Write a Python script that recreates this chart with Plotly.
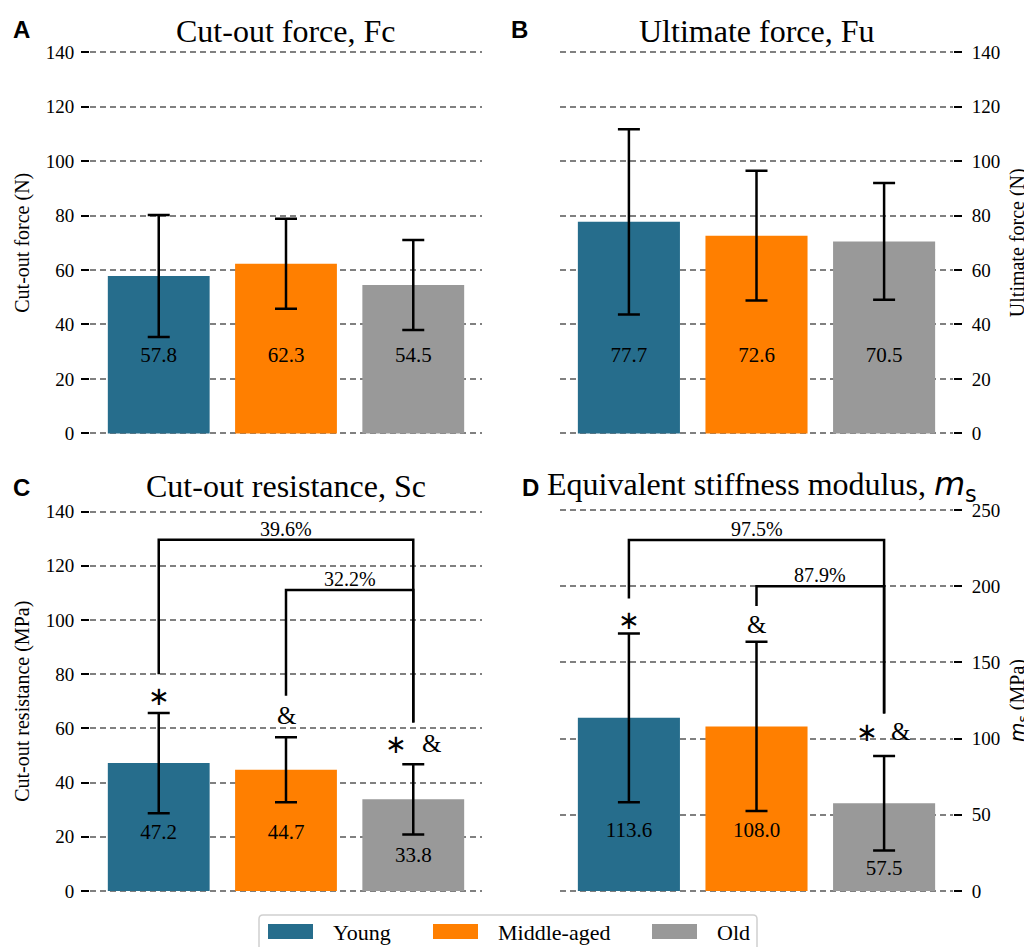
import plotly.graph_objects as go

W, H = 1032, 947
OFF = 8  # the page body adds an 8px margin; pixel positions below are page pixels


def fx(px):
    return (px - OFF) / W


def fy(py):
    return 1 - (py - OFF) / H


# ---------------- data ----------------
categories = ["Young", "Middle-aged", "Old"]
bar_colors = ["#266D8C", "#FF7F00", "#999999"]

fc_mean = [57.8, 62.3, 54.5]
fc_sd = [22.4, 16.5, 16.5]
fu_mean = [77.7, 72.6, 70.5]
fu_sd = [34.0, 23.8, 21.4]
sc_mean = [47.2, 44.7, 33.8]
sc_sd = [18.5, 12.0, 13.0]
ms_mean = [113.6, 108.0, 57.5]
ms_sd = [55.3, 55.5, 31.0]

# vertical placement of the value labels inside the bars (data units)
fc_label_y = [28.2, 28.2, 28.2]
fu_label_y = [28.2, 28.2, 28.2]
sc_label_y = [21.2, 21.2, 12.6]
ms_label_y = [38.9, 38.9, 13.8]

# significance brackets: from group, to group, left-leg bottom, right-leg bottom, top, text
sc_br_from = [0, 1]
sc_br_to = [2, 2]
sc_br_left = [80.0, 72.0]
sc_br_right = [62.2, 62.2]
sc_br_top = [129.6, 111.0]
sc_br_text = ["39.6%", "32.2%"]

ms_br_from = [0, 1]
ms_br_to = [2, 2]
ms_br_left = [192.0, 187.0]
ms_br_right = [116.5, 116.5]
ms_br_top = [230.3, 200.0]
ms_br_text = ["97.5%", "87.9%"]

# significance symbols: x position, y, symbol
sc_sym_x = [0, 1, 1.866, 2.142]
sc_sym_y = [72.0, 64.7, 54.4, 54.4]
sc_sym = ["∗", "&", "∗", "&"]
ms_sym_x = [0, 1, 1.868, 2.13]
ms_sym_y = [178.0, 175.0, 104.5, 104.5]
ms_sym = ["∗", "&", "∗", "&"]

SERIF = "Liberation Serif"
SANS = "Liberation Sans"
MS = '<span style="font-family:DejaVu Sans"><i>m</i><sub>s</sub></span>'

fig = go.Figure()

panels = [
    dict(x="x", y="y", m=fc_mean, s=fc_sd, ly=fc_label_y, rng=[-1, 141], dt=20,
         side="left", xpx=(90, 482), ypx=(436.2, 49.3), title="Cut-out force (N)"),
    dict(x="x2", y="y2", m=fu_mean, s=fu_sd, ly=fu_label_y, rng=[-1, 141], dt=20,
         side="right", xpx=(560, 953), ypx=(436.2, 49.3), title="Ultimate force (N)"),
    dict(x="x3", y="y3", m=sc_mean, s=sc_sd, ly=sc_label_y, rng=[-1, 141], dt=20,
         side="left", xpx=(90, 482), ypx=(893.7, 508.8), title="Cut-out resistance (MPa)"),
    dict(x="x4", y="y4", m=ms_mean, s=ms_sd, ly=ms_label_y, rng=[-2, 252], dt=50,
         side="right", xpx=(560, 953), ypx=(894.0, 507.0), title=MS + " (MPa)"),
]

xi = [0, 1, 2]
for p in panels:
    for i, cat in enumerate(categories):
        fig.add_trace(go.Bar(
            x=[xi[i]], y=[p["m"][i]], width=0.8, name=cat,
            marker=dict(color=bar_colors[i], line=dict(width=0)),
            error_y=dict(type="data", array=[p["s"][i]], visible=True,
                         color="black", thickness=2.5, width=11),
            xaxis=p["x"], yaxis=p["y"], showlegend=False,
        ))
    fig.add_trace(go.Scatter(
        x=xi, y=p["ly"], mode="text",
        text=[f"{v:.1f}" for v in p["m"]],
        textfont=dict(family=SERIF, size=21, color="black"),
        xaxis=p["x"], yaxis=p["y"], showlegend=False, hoverinfo="skip",
    ))


def add_brackets(xa, ya, f, t, left, right, top, texts):
    for k in range(len(f)):
        fig.add_trace(go.Scatter(
            x=[f[k], f[k], t[k], t[k]], y=[left[k], top[k], top[k], right[k]],
            mode="lines", line=dict(color="black", width=2.5),
            xaxis=xa, yaxis=ya, showlegend=False, hoverinfo="skip",
        ))
        fig.add_annotation(x=(f[k] + t[k]) / 2, y=top[k], xref=xa, yref=ya,
                           text=texts[k], showarrow=False, yanchor="bottom", yshift=-2,
                           font=dict(family=SERIF, size=20, color="black"))


add_brackets("x3", "y3", sc_br_from, sc_br_to, sc_br_left, sc_br_right, sc_br_top, sc_br_text)
add_brackets("x4", "y4", ms_br_from, ms_br_to, ms_br_left, ms_br_right, ms_br_top, ms_br_text)

for xa, ya, xs, ys, ss in [("x3", "y3", sc_sym_x, sc_sym_y, sc_sym),
                           ("x4", "y4", ms_sym_x, ms_sym_y, ms_sym)]:
    for xv, yv, sv in zip(xs, ys, ss):
        fam = "DejaVu Sans" if sv == "∗" else SERIF
        fig.add_annotation(x=xv, y=yv, xref=xa, yref=ya, text=sv, showarrow=False,
                           font=dict(family=fam, size=26 if sv == "∗" else 25, color="black"))

layout = dict(
    width=W, height=H, margin=dict(l=0, r=0, t=0, b=0, autoexpand=False),
    paper_bgcolor="white", plot_bgcolor="white", showlegend=False,
    barmode="overlay",
)
for p in panels:
    xk = "xaxis" + p["x"][1:]
    yk = "yaxis" + p["y"][1:]
    right = p["side"] == "right"
    layout[xk] = dict(domain=[fx(p["xpx"][0]), fx(p["xpx"][1])], range=[-0.54, 2.54],
                      showticklabels=False, showgrid=False, zeroline=False, showline=False,
                      ticks="", anchor=p["y"], fixedrange=True, automargin=False)
    layout[yk] = dict(domain=[fy(p["ypx"][0]), fy(p["ypx"][1])], range=p["rng"],
                      anchor=p["x"], side=p["side"], tick0=0, dtick=p["dt"],
                      ticks="outside", ticklen=8, tickwidth=1.5, tickcolor="black",
                      ticklabelstandoff=6 if right else 3,
                      tickfont=dict(family=SERIF, size=19, color="black"),
                      showgrid=True, gridcolor="#808080", gridwidth=1.5, griddash="6px,4px",
                      zeroline=False, showline=False, automargin=False,
                      title=dict(text=p["title"], font=dict(family=SERIF, size=20, color="black"),
                                 standoff=10))
fig.update_layout(**layout)

# panel titles and letters
titles = [
    ("Cut-out force, Fc", 286, 31, "center"),
    ("Ultimate force, Fu", 756, 31, "center"),
    ("Cut-out resistance, Sc", 286, 486, "center"),
    ("Equivalent stiffness modulus, " + MS, 545, 486, "left"),
]
for txt, px, py, anc in titles:
    fig.add_annotation(x=fx(px), y=fy(py), xref="paper", yref="paper", text=txt,
                       showarrow=False, xanchor=anc, yanchor="middle",
                       font=dict(family=SERIF, size=32, color="black"))
letters = [("A", 21, 29), ("B", 519, 29), ("C", 21, 488), ("D", 530, 488)]
for txt, px, py in letters:
    fig.add_annotation(x=fx(px), y=fy(py), xref="paper", yref="paper", text=f"<b>{txt}</b>",
                       showarrow=False, xanchor="center", yanchor="middle",
                       font=dict(family=SANS, size=24, color="black"))

# legend (drawn in the figure frame)
fig.add_shape(type="path", xref="paper", yref="paper",
              path=f"M {fx(263)},{fy(915)} L {fx(753)},{fy(915)} Q {fx(757)},{fy(915)} {fx(757)},{fy(919)} "
                   f"L {fx(757)},{fy(965)} L {fx(259)},{fy(965)} L {fx(259)},{fy(919)} Q {fx(259)},{fy(915)} {fx(263)},{fy(915)} Z",
              line=dict(color="#d0d0d0", width=1.5), fillcolor="white")
leg_patch_x = [268, 433, 652]
for i, cat in enumerate(categories):
    x0 = leg_patch_x[i]
    fig.add_shape(type="rect", xref="paper", yref="paper",
                  x0=fx(x0), x1=fx(x0 + 45), y0=fy(939), y1=fy(924),
                  line=dict(width=0), fillcolor=bar_colors[i])
    fig.add_annotation(x=fx(x0 + 63), y=fy(932), xref="paper", yref="paper", text=cat,
                       showarrow=False, xanchor="left", yanchor="middle",
                       font=dict(family=SERIF, size=22, color="black"))

fig.write_html("out.html")
